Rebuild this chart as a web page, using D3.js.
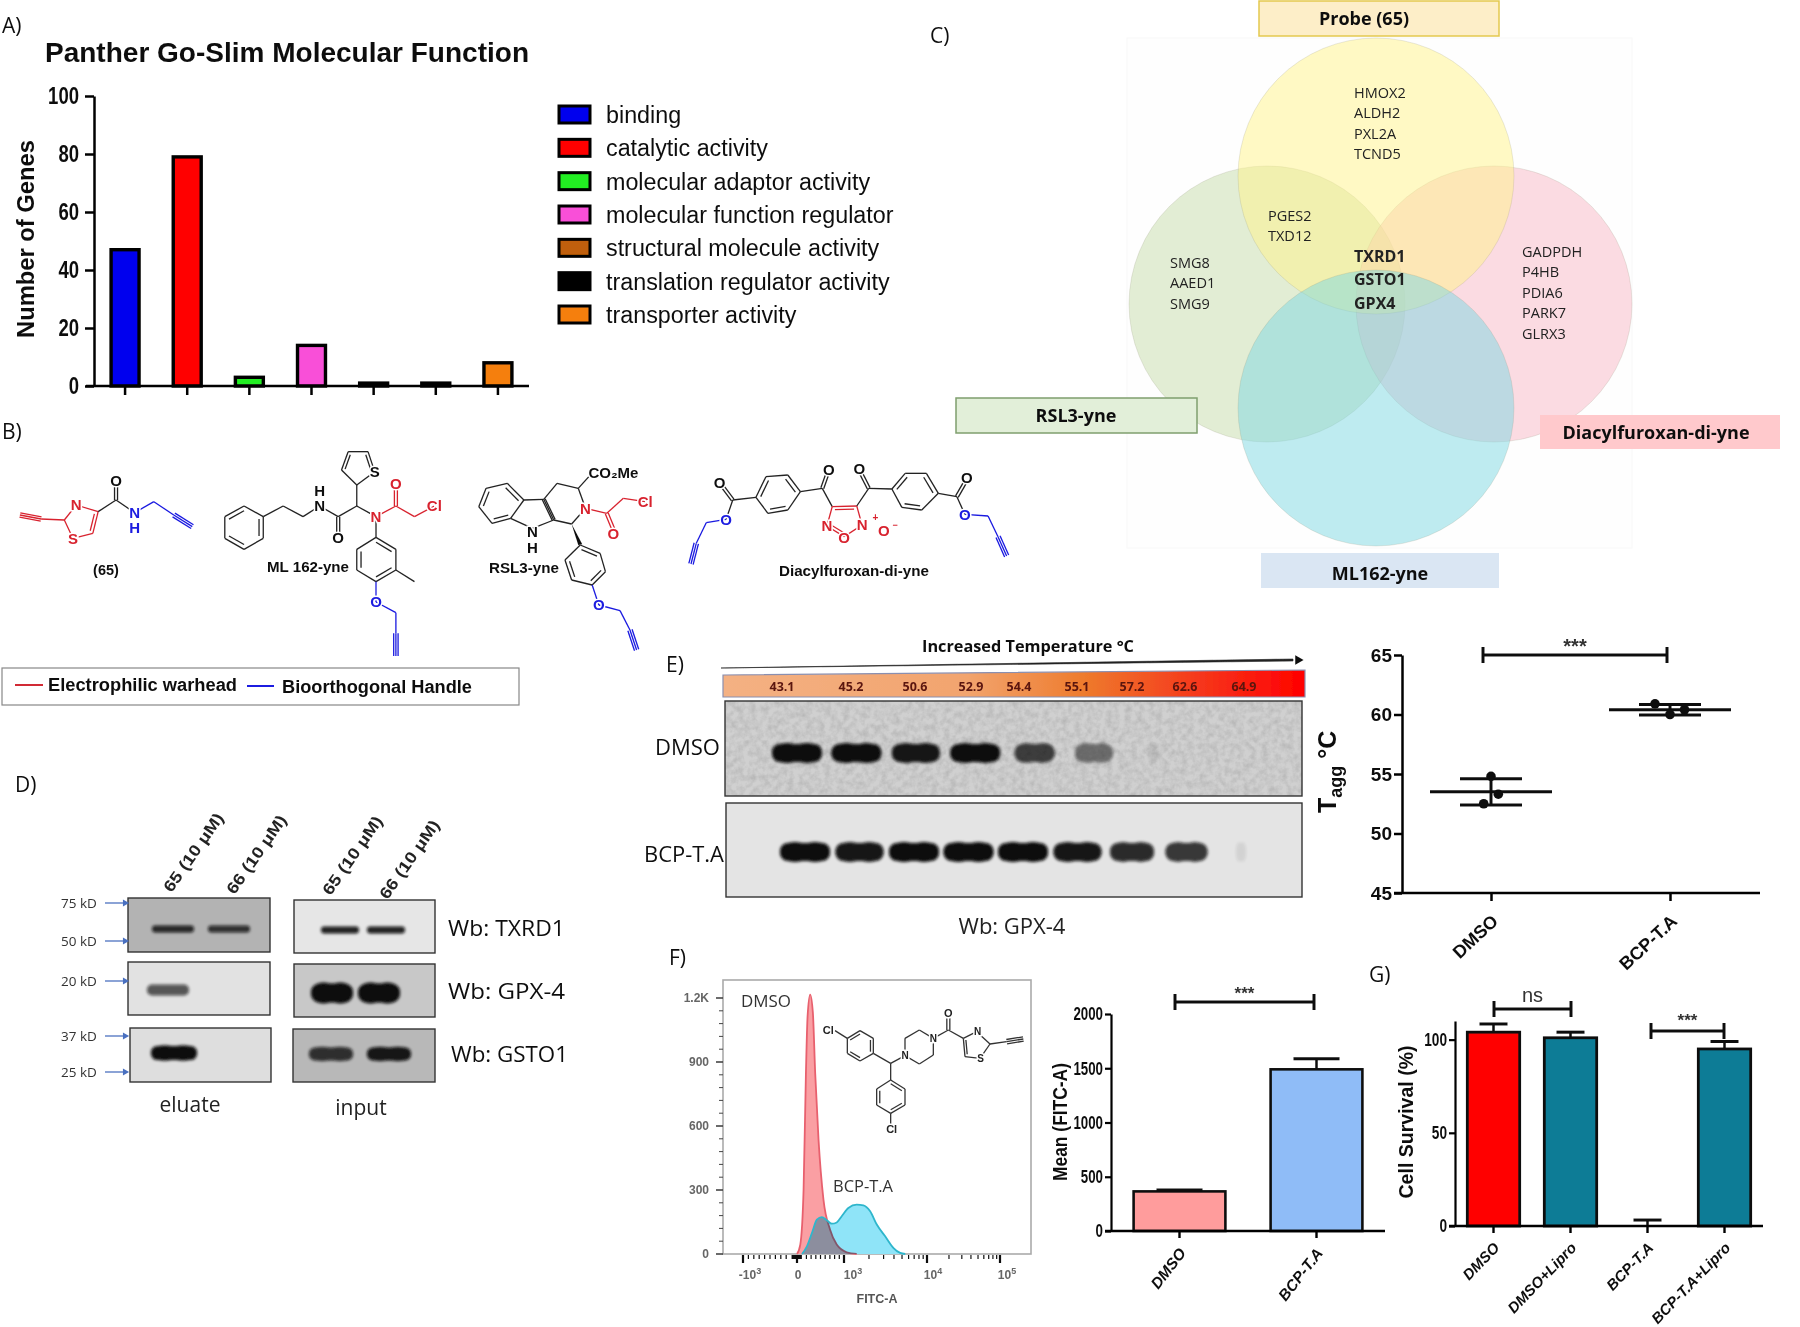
<!DOCTYPE html>
<html>
<head>
<meta charset="utf-8">
<script src="https://cdn.jsdelivr.net/npm/d3@7"></script>
<style>
  html, body { margin: 0; padding: 0; background: #fff; }
  text { font-family: "Liberation Sans", Arial, sans-serif; fill: #111; }
  .cal text, text.cal { font-family: "Open Sans", "Noto Sans", sans-serif; }
</style>
</head>
<body>
<script>
// A) panther go-slim
var goCategories = ['binding', 'catalytic activity', 'molecular adaptor activity', 'molecular function regulator', 'structural molecule activity', 'translation regulator activity', 'transporter activity'];
var goValues = [47, 79, 3, 14, 1, 1, 8];
var goColors = ['#0000ee', '#ff0000', '#22ee22', '#f94fd8', '#c05f08', '#000000', '#f57f0f'];
var goTicks = [0, 20, 40, 60, 80, 100];

// C) venn
var vennNames = ['RSL3-yne', 'Diacylfuroxan-di-yne', 'Probe (65)', 'ML162-yne'];
var vennProbeOnly = ['HMOX2', 'ALDH2', 'PXL2A', 'TCND5'];
var vennProbeRsl = ['PGES2', 'TXD12'];
var vennRslOnly = ['SMG8', 'AAED1', 'SMG9'];
var vennDiacylOnly = ['GADPDH', 'P4HB', 'PDIA6', 'PARK7', 'GLRX3'];
var vennCore = ['TXRD1', 'GSTO1', 'GPX4'];

// D) western blots, band strength per lane
var txrdEluate = [0.85, 0.8];
var txrdInput = [0.9, 0.9];
var gpxEluate = [0.65, 0];
var gpxInput = [1, 1];
var gstoEluate = [1, 0];
var gstoInput = [0.8, 0.95];
var kdLabels = ['75 kD', '50 kD', '20 kD', '37 kD', '25 kD'];
var laneLabels = ['65 (10 \u03bcM)', '66 (10 \u03bcM)', '65 (10 \u03bcM)', '66 (10 \u03bcM)'];

// E) thermal shift
var tempLabels = ['43.1', '45.2', '50.6', '52.9', '54.4', '55.1', '57.2', '62.6', '64.9'];
var dmsoLanes = [1, 1, 0.95, 1, 0.75, 0.5, 0.08, 0, 0];
var bcpLanes = [1, 0.95, 1, 1, 1, 0.95, 0.85, 0.8, 0.08];
var taggGroups = ['DMSO', 'BCP-T.A'];
var taggDmso = [54.8, 53.3, 52.5];
var taggBcp = [60.9, 60.0, 60.4];
var taggMean = [53.5, 60.4];
var taggSd = [1.1, 0.45];
var taggTicks = [45, 50, 55, 60, 65];

// F) flow histogram, [FITC-A, count]
var histDmso = [[0, 0], [70, 44], [140, 302], [190, 848], [225, 1114], [280, 1216], [338, 1130], [387, 848], [458, 536], [563, 255], [704, 114], [845, 44], [1077, 8], [1423, 0]];
var histBcp = [[106, 0], [211, 36], [317, 98], [423, 161], [528, 173], [634, 158], [739, 142], [845, 148], [951, 177], [1128, 216], [1423, 231], [1714, 228], [2066, 200], [2483, 138], [3133, 83], [3954, 28], [4753, 5], [5470, 0]];
var histYTicks = [0, 300, 600, 900, 1200];
var histYLabels = ['0', '300', '600', '900', '1.2K'];
var meanGroups = ['DMSO', 'BCP-T.A'];
var meanValues = [365, 1490];
var meanErrors = [12, 97];
var meanColors = ['#ff9c9c', '#8fbcf7'];
var meanTicks = [0, 500, 1000, 1500, 2000];

// G) survival
var survGroups = ['DMSO', 'DMSO+Lipro', 'BCP-T.A', 'BCP-T.A+Lipro'];
var survValues = [104, 101, 0, 95];
var survErrors = [4.4, 3, 3.2, 4];
var survColors = ['#ff0000', '#0a7c96', '#0a7c96', '#0a7c96'];
var survTicks = [0, 50, 100];

var svg = d3.select('body').append('svg').attr('width', 1800).attr('height', 1327).style('display', 'block');
var defs = svg.append('defs');
function blur(id, sd) {
  defs.append('filter').attr('id', id).attr('filterUnits', 'userSpaceOnUse')
    .attr('x', 0).attr('y', 0).attr('width', 1800).attr('height', 1327)
    .append('feGaussianBlur').attr('stdDeviation', sd);
}
blur('soft', 0.55);
blur('smear', 1.5);

// film grain on the blots
var grain = defs.append('filter').attr('id', 'grain').attr('x', 0).attr('y', 0).attr('width', 1).attr('height', 1);
grain.append('feTurbulence').attr('type', 'fractalNoise').attr('baseFrequency', 0.16).attr('numOctaves', 3).attr('seed', 4);
grain.append('feColorMatrix').attr('type', 'matrix').attr('values', '0 0 0 0 0.25  0 0 0 0 0.25  0 0 0 0 0.25  0.6 0 0 0 -0.2');

svg.append('rect').attr('width', 1800).attr('height', 1327).attr('fill', '#fff');
var root = svg.append('g').attr('filter', 'url(#soft)');

// text helper, y is the middle of the line
function txt(g, x, y, s, o) {
  o = o || {};
  var t = g.append('text').attr('x', x).attr('y', y).attr('dy', '.35em').text(s)
    .attr('font-size', o.size || 16)
    .attr('text-anchor', o.anchor || 'start');
  if (o.bold) t.attr('font-weight', 'bold');
  if (o.italic) t.attr('font-style', 'italic');
  if (o.cal) t.classed('cal', true);
  if (o.fill) t.style('fill', o.fill);
  if (o.len) t.attr('textLength', o.len).attr('lengthAdjust', 'spacingAndGlyphs');
  if (o.rot) t.attr('transform', 'rotate(' + o.rot + ' ' + x + ' ' + y + ')');
  return t;
}

function styleAxis(a, width, size, charW) {
  a.selectAll('path,line').attr('stroke', '#000').attr('stroke-width', width);
  a.selectAll('text').attr('font-size', size).attr('font-weight', 'bold').style('fill', '#111');
  if (charW) {
    a.selectAll('text').attr('textLength', function (d) { return String(d).length * charW; }).attr('lengthAdjust', 'spacingAndGlyphs');
  }
  return a;
}

function sigBar(g, x1, x2, y, label, labelY, labelSize) {
  var s = g.append('g').attr('stroke', '#111').attr('stroke-width', 3).attr('fill', 'none');
  s.append('line').attr('x1', x1).attr('x2', x2).attr('y1', y).attr('y2', y);
  s.append('line').attr('x1', x1).attr('x2', x1).attr('y1', y - 8).attr('y2', y + 8);
  s.append('line').attr('x1', x2).attr('x2', x2).attr('y1', y - 8).attr('y2', y + 8);
  txt(g, (x1 + x2) / 2, labelY, label, { size: labelSize || 16, anchor: 'middle', bold: label !== 'ns', fill: '#333' });
}

// ---------------- panel letters
[['A)', 2, 26], ['B)', 2, 432], ['C)', 930, 36], ['D)', 15, 785], ['E)', 666, 665], ['F)', 669, 958], ['G)', 1369, 975]].forEach(function (d) {
  txt(root, d[1], d[2], d[0], { size: 21, cal: true });
});

// ---------------- A
(function () {
  var g = root.append('g');
  var x = d3.scaleBand().domain(goCategories).range([94, 529]).paddingInner(0.55).paddingOuter(0.275);
  var y = d3.scaleLinear().domain([0, 100]).range([386, 96]);

  txt(g, 45, 52, 'Panther Go-Slim Molecular Function', { size: 28, bold: true, len: 484 });
  txt(g, 26, 239, 'Number of Genes', { size: 24, bold: true, anchor: 'middle', rot: -90, len: 198 });

  g.selectAll('rect.bar').data(goValues).enter().append('rect').attr('class', 'bar')
    .attr('x', function (d, i) { return x(goCategories[i]); })
    .attr('y', function (d) { return y(d); })
    .attr('width', x.bandwidth())
    .attr('height', function (d) { return y(0) - y(d); })
    .attr('fill', function (d, i) { return goColors[i]; })
    .attr('stroke', '#000').attr('stroke-width', 3.4);

  var ay = g.append('g').attr('transform', 'translate(94,0)').call(d3.axisLeft(y).tickValues(goTicks).tickSize(9).tickSizeOuter(0).tickPadding(6));
  styleAxis(ay, 2.5, 24, 10.3);
  var ax = g.append('g').attr('transform', 'translate(0,386)').call(d3.axisBottom(x).tickFormat('').tickSize(9).tickSizeOuter(0));
  styleAxis(ax, 2.5, 10);
  ax.select('.domain').attr('d', 'M86,0H529');

  // legend
  var leg = d3.scalePoint().domain(goCategories).range([115, 315]);
  goCategories.forEach(function (c, i) {
    g.append('rect').attr('x', 559).attr('y', leg(c) - 9).attr('width', 31).attr('height', 17)
      .attr('fill', goColors[i]).attr('stroke', '#000').attr('stroke-width', 3);
    txt(g, 606, leg(c), c, { size: 23.3 });
  });
})();

// ---------------- B, skeletal formulas traced by hand
var INK = '#222', WARM = '#d8232f', COOL = '#1a1ae0';

function line2(g, a, b, c, w) {
  g.append('line').attr('x1', a[0]).attr('y1', a[1]).attr('x2', b[0]).attr('y2', b[1])
    .attr('stroke', c).attr('stroke-width', w || 1.3);
}
function molecule(sx, sy, ox, oy) {
  var g = root.append('g');
  function P(p) { return [ox + p[0] / sx, oy + p[1] / sy]; }
  var m = {
    path: function (pts, c) {
      for (var i = 1; i < pts.length; i++) line2(g, P(pts[i - 1]), P(pts[i]), c || INK);
      return m;
    },
    ring: function (pts, c, doubles) {
      var q = pts.map(P);
      var cx = d3.mean(q, function (d) { return d[0]; }), cy = d3.mean(q, function (d) { return d[1]; });
      q.forEach(function (a, i) {
        var b = q[(i + 1) % q.length];
        line2(g, a, b, c || INK);
        if ((doubles || []).indexOf(i) >= 0) {
          var k = 0.78;
          line2(g, [cx + (a[0] - cx) * k, cy + (a[1] - cy) * k], [cx + (b[0] - cx) * k, cy + (b[1] - cy) * k], c || INK);
        }
      });
      return m;
    },
    dbl: function (a, b, c) {
      var p = P(a), r = P(b), dx = r[0] - p[0], dy = r[1] - p[1], l = Math.sqrt(dx * dx + dy * dy);
      var nx = -dy / l * 1.5, ny = dx / l * 1.5;
      line2(g, [p[0] + nx, p[1] + ny], [r[0] + nx, r[1] + ny], c || INK);
      line2(g, [p[0] - nx, p[1] - ny], [r[0] - nx, r[1] - ny], c || INK);
      return m;
    },
    tri: function (a, b, c) {
      var p = P(a), r = P(b), dx = r[0] - p[0], dy = r[1] - p[1], l = Math.sqrt(dx * dx + dy * dy);
      var nx = -dy / l * 2.2, ny = dx / l * 2.2;
      [-1, 0, 1].forEach(function (k) {
        line2(g, [p[0] + nx * k, p[1] + ny * k], [r[0] + nx * k, r[1] + ny * k], c || INK);
      });
      return m;
    },
    atom: function (p, s, c, size) {
      var q = P(p);
      txt(g, q[0], q[1], s, { size: size || 15, bold: true, anchor: 'middle', fill: c || '#111' })
        .attr('stroke', '#fff').attr('stroke-width', 3).attr('paint-order', 'stroke');
      return m;
    }
  };
  return m;
}

// (65)
molecule(1.508, 3, 0, 420)
  .tri([30, 285], [62, 297], WARM).path([[62, 297], [97, 300]], WARM)
  .ring([[97, 300], [115, 255], [148, 275], [140, 340], [110, 355]], WARM, [2])
  .path([[148, 275], [175, 240], [203, 278]], INK)
  .path([[203, 278], [232, 245], [262, 285]], COOL)
  .dbl([175, 240], [175, 198]).tri([262, 285], [290, 320], COOL)
  .atom([115, 255], 'N', WARM).atom([110, 357], 'S', WARM).atom([175, 183], 'O')
  .atom([203, 277], 'N', COOL).atom([203, 322], 'H', COOL);
txt(root, 106, 570, '(65)', { size: 14.5, bold: true, anchor: 'middle' });

// ML 162-yne
molecule(1.508, 3, 0, 420)
  .ring([[368, 258], [397, 290], [397, 355], [368, 388], [339, 355], [339, 290]], INK, [1, 3, 5])
  .path([[397, 290], [427, 258], [457, 290], [482, 258], [510, 290], [538, 258], [538, 195]])
  .dbl([510, 290], [510, 340])
  .ring([[538, 195], [515, 150], [525, 95], [555, 95], [565, 155]], INK, [1, 3])
  .path([[538, 258], [567, 290]])
  .path([[567, 290], [597, 258], [625, 290], [655, 258]], WARM).dbl([597, 258], [597, 205], WARM)
  .path([[567, 290], [567, 352]])
  .ring([[567, 352], [597, 388], [597, 450], [567, 485], [538, 450], [538, 388]], INK, [0, 2, 4])
  .path([[597, 450], [625, 485]])
  .path([[567, 485], [567, 546], [597, 578], [597, 640]], COOL).tri([597, 640], [597, 708], COOL)
  .atom([482, 258], 'N').atom([482, 212], 'H').atom([510, 352], 'O').atom([565, 155], 'S')
  .atom([567, 290], 'N', WARM).atom([597, 192], 'O', WARM).atom([655, 258], 'Cl', WARM).atom([567, 546], 'O', COOL);
txt(root, 308, 567, 'ML 162-yne', { size: 14.5, bold: true, anchor: 'middle', len: 82 });

// RSL3-yne
molecule(1.508, 3, 0, 420)
  .ring([[733, 205], [765, 190], [790, 240], [770, 295], [742, 310], [722, 260]], INK, [1, 3, 5])
  .path([[790, 240], [820, 238], [835, 300], [803, 325], [770, 295]]).dbl([820, 238], [835, 300])
  .path([[820, 238], [840, 190], [872, 205], [883, 265], [862, 312], [835, 300]])
  .path([[872, 205], [888, 170]])
  .path([[883, 265], [915, 280], [940, 235], [973, 245]], WARM).dbl([915, 280], [925, 328], WARM)
  .ring([[875, 375], [905, 400], [913, 455], [893, 495], [862, 480], [852, 420]], INK, [0, 2, 4])
  .path([[893, 495], [903, 555], [935, 572], [950, 630]], COOL).tri([950, 630], [960, 690], COOL)
  .atom([803, 336], 'N').atom([803, 382], 'H').atom([925, 158], 'CO\u2082Me').atom([883, 265], 'N', WARM)
  .atom([925, 340], 'O', WARM).atom([973, 245], 'Cl', WARM).atom([903, 555], 'O', COOL);
// wedge bond of RSL3-yne
root.append('path').attr('d', 'M' + (862 / 1.508) + ',' + (420 + 312 / 3) + 'L' + (872 / 1.508) + ',' + (420 + 375 / 3) + 'L' + (878 / 1.508) + ',' + (420 + 373 / 3) + 'Z').attr('fill', '#111');
txt(root, 524, 568, 'RSL3-yne', { size: 14.5, bold: true, anchor: 'middle', len: 70 });

// Diacylfuroxan-di-yne
molecule(1.508, 3, 0, 420)
  .ring([[1140, 232], [1155, 170], [1188, 165], [1207, 215], [1188, 270], [1158, 280]], INK, [0, 2, 4])
  .path([[1140, 232], [1105, 240]]).dbl([1105, 240], [1090, 200]).path([[1105, 240], [1095, 298]])
  .path([[1095, 298], [1065, 308], [1050, 370]], COOL).tri([1050, 370], [1042, 432], COOL)
  .path([[1207, 215], [1240, 205], [1255, 260]]).dbl([1240, 205], [1248, 160])
  .ring([[1255, 260], [1292, 258], [1300, 315], [1273, 350], [1247, 318]], WARM, [0, 3])
  .path([[1292, 258], [1310, 205], [1345, 207]]).dbl([1310, 205], [1298, 158])
  .ring([[1345, 207], [1365, 160], [1397, 160], [1415, 220], [1390, 270], [1360, 262]], INK, [0, 2, 4])
  .path([[1415, 220], [1443, 230], [1455, 283]]).dbl([1443, 230], [1456, 185])
  .path([[1455, 283], [1490, 288], [1505, 350]], COOL).tri([1505, 350], [1518, 408], COOL)
  .atom([1085, 188], 'O').atom([1095, 298], 'O', COOL).atom([1250, 148], 'O').atom([1296, 145], 'O')
  .atom([1458, 172], 'O').atom([1455, 283], 'O', COOL)
  .atom([1247, 318], 'N', WARM).atom([1300, 315], 'N', WARM).atom([1273, 352], 'O', WARM)
  .atom([1320, 292], '+', WARM, 10).atom([1333, 333], 'O', WARM).atom([1350, 314], '\u2212', WARM, 9);
txt(root, 854, 571, 'Diacylfuroxan-di-yne', { size: 14.5, bold: true, anchor: 'middle', len: 150 });

// warhead legend
(function () {
  var g = root.append('g');
  g.append('rect').attr('x', 2).attr('y', 668).attr('width', 517).attr('height', 37).attr('fill', 'none').attr('stroke', '#888').attr('stroke-width', 1.2);
  line2(g, [15, 685], [43, 685], '#d12a36', 2);
  line2(g, [247, 686], [274, 686], '#1a1ae0', 2);
  txt(g, 48, 685, 'Electrophilic warhead', { size: 18, bold: true, len: 189 });
  txt(g, 282, 687, 'Bioorthogonal Handle', { size: 18, bold: true, len: 190 });
})();

// ---------------- C venn
(function () {
  var g = root.append('g');
  g.append('rect').attr('x', 1127).attr('y', 38).attr('width', 505).attr('height', 510).attr('fill', '#fefefe').attr('stroke', '#f8f8f8');
  var circles = [[1267, 304, '#c5dbaa'], [1494, 304, '#f7b7c5'], [1376, 176, '#fff389'], [1376, 408, '#7dd7e1']];
  g.selectAll('circle').data(circles).enter().append('circle')
    .attr('cx', function (d) { return d[0]; }).attr('cy', function (d) { return d[1]; })
    .attr('r', 138).attr('fill', function (d) { return d[2]; }).attr('fill-opacity', 0.5)
    .attr('stroke', '#8a8a70').attr('stroke-opacity', 0.18);

  function list(names, x, top, step, bold) {
    var p = d3.scaleLinear().domain([0, 1]).range([top, top + step]);
    names.forEach(function (n, i) {
      txt(g, x, p(i), n, { size: bold ? 16 : 14.5, cal: true, bold: bold, fill: '#222' });
    });
  }
  list(vennProbeOnly, 1354, 93, 20.4);
  list(vennProbeRsl, 1268, 216, 20.4);
  list(vennRslOnly, 1170, 263, 20.4);
  list(vennDiacylOnly, 1522, 252, 20.4);
  list(vennCore, 1354, 256, 23.6, true);

  var boxes = [
    [956, 398, 241, 35, '#e2efd9', '#7f9f6e', 1076, 416],
    [1540, 415, 240, 34, '#ffc9cc', 'none', 1656, 433],
    [1259, 1, 240, 35, '#fdeec8', '#e3c94f', 1364, 19],
    [1261, 553, 238, 35, '#dae6f3', 'none', 1380, 574]
  ];
  boxes.forEach(function (b, i) {
    g.append('rect').attr('x', b[0]).attr('y', b[1]).attr('width', b[2]).attr('height', b[3])
      .attr('fill', b[4]).attr('stroke', b[5]).attr('stroke-width', 1.5);
    txt(g, b[6], b[7], vennNames[i], { size: 18, bold: true, cal: true, anchor: 'middle' });
  });
})();

// ---------------- gel helpers
var bandWidth = d3.scaleLinear().domain([0.08, 0.5, 0.75, 1]).range([10, 38, 40, 50]);

function blot(g, x, y, w, h, fill, rough) {
  g.append('rect').attr('x', x).attr('y', y).attr('width', w).attr('height', h).attr('fill', fill);
  if (rough) g.append('rect').attr('x', x).attr('y', y).attr('width', w).attr('height', h).attr('filter', 'url(#grain)');
  g.append('rect').attr('x', x).attr('y', y).attr('width', w).attr('height', h).attr('fill', 'none').attr('stroke', '#333').attr('stroke-width', 1.4);
}
function bands(g, vals, lane, yc, h, wFn) {
  var live = vals.map(function (v, i) { return { v: v, i: i }; }).filter(function (d) { return d.v > 0; });
  var b = g.selectAll(null).data(live).enter().append('g')
    .attr('opacity', function (d) { return d.v; })
    .attr('filter', 'url(#smear)');
  b.append('rect')
    .attr('x', function (d) { return lane(d.i) - wFn(d) / 2; })
    .attr('y', yc - h / 2)
    .attr('width', wFn)
    .attr('height', h)
    .attr('rx', h * 0.45)
    .attr('fill', '#0c0c0c');
  // thick bands are slightly two-lobed on the film
  if (h > 11) {
    [-0.2, 0.2].forEach(function (k) {
      b.append('ellipse')
        .attr('cx', function (d) { return lane(d.i) + wFn(d) * k; })
        .attr('cy', yc)
        .attr('rx', function (d) { return wFn(d) * 0.3; })
        .attr('ry', h * 0.55)
        .attr('fill', '#0c0c0c');
    });
  }
}

// ---------------- D
(function () {
  var g = root.append('g');
  blot(g, 128, 898, 142, 54, '#b3b3b3');
  blot(g, 128, 962, 142, 53, '#e2e2e2');
  blot(g, 130, 1028, 141, 54, '#dedede');
  blot(g, 294, 900, 141, 53, '#e6e6e6');
  blot(g, 294, 964, 141, 53, '#c8c8c8');
  blot(g, 293, 1029, 142, 53, '#b8b8b8');

  function w(n) { return function () { return n; }; }
  bands(g, txrdEluate, d3.scaleLinear().domain([0, 1]).range([173, 229]), 929, 7, w(42));
  bands(g, txrdInput, d3.scaleLinear().domain([0, 1]).range([340, 386]), 930, 7, w(38));
  bands(g, gpxEluate, d3.scaleLinear().domain([0, 1]).range([168, 224]), 990, 11, w(42));
  bands(g, gpxInput, d3.scaleLinear().domain([0, 1]).range([332, 379]), 993, 19, w(42));
  bands(g, gstoEluate, d3.scaleLinear().domain([0, 1]).range([174, 230]), 1053, 14, w(46));
  bands(g, gstoInput, d3.scaleLinear().domain([0, 1]).range([331, 389]), 1054, 13, w(44));

  var kdY = d3.scaleOrdinal().domain(kdLabels).range([903, 941, 981, 1036, 1072]);
  kdLabels.forEach(function (k) {
    txt(g, 79, kdY(k), k, { size: 13.5, anchor: 'middle', cal: true, fill: '#333' });
    line2(g, [105, kdY(k)], [124, kdY(k)], '#5b7cc4', 1.4);
    g.append('path').attr('d', d3.symbol(d3.symbolTriangle, 22)()).attr('fill', '#4a6fc0')
      .attr('transform', 'translate(125,' + kdY(k) + ') rotate(90)');
  });

  var laneX = d3.scaleOrdinal().domain([0, 1, 2, 3]).range([167, 230, 326, 383]);
  var laneY = d3.scaleOrdinal().domain([0, 1, 2, 3]).range([890, 892, 893, 897]);
  laneLabels.forEach(function (l, i) {
    txt(g, laneX(i), laneY(i), l, { size: 16, bold: true, rot: -55, len: 92, fill: '#222' });
  });

  [['Wb: TXRD1', 448, 929], ['Wb: GPX-4', 448, 992], ['Wb: GSTO1', 451, 1055]].forEach(function (d) {
    txt(g, d[1], d[2], d[0], { size: 21, cal: true, len: 117 });
  });
  txt(g, 190, 1105, 'eluate', { size: 21, cal: true, anchor: 'middle', fill: '#222' });
  txt(g, 361, 1108, 'input', { size: 21, cal: true, anchor: 'middle', fill: '#222' });
})();

// ---------------- E gel
(function () {
  var g = root.append('g');
  txt(g, 1028, 646, 'Increased Temperature \u00b0C', { size: 16.5, bold: true, cal: true, anchor: 'middle', len: 212 });
  g.append('path').attr('d', 'M721,668 L1293,659 L1293,661 Z').attr('fill', '#222').attr('stroke', '#222').attr('stroke-width', 0.6);
  g.append('path').attr('d', d3.symbol(d3.symbolTriangle, 40)()).attr('fill', '#111').attr('transform', 'translate(1298,660) rotate(90)');

  var grad = defs.append('linearGradient').attr('id', 'heat');
  [[0, '#f4b183'], [0.42, '#f2a46e'], [0.62, '#ee7b2d'], [0.82, '#f6361b'], [1, '#ff0000']].forEach(function (s) {
    grad.append('stop').attr('offset', s[0]).attr('stop-color', s[1]);
  });
  g.append('path').attr('d', 'M723,675 L1305,670 L1305,697 L723,697 Z').attr('fill', 'url(#heat)').attr('stroke', '#8a8fb0').attr('stroke-width', 1.2);

  var tx = d3.scaleOrdinal().domain(tempLabels).range([782, 851, 915, 971, 1019, 1077, 1132, 1185, 1244]);
  tempLabels.forEach(function (t) {
    txt(g, tx(t), 687, t, { size: 12.5, bold: true, anchor: 'middle', cal: true, fill: '#5a1410' });
  });

  blot(g, 725, 701, 577, 95, '#d0d0d0', true);
  blot(g, 726, 803, 576, 94, '#e4e4e4');
  bands(g, dmsoLanes, d3.scaleLinear().domain([0, 1]).range([797, 856.4]), 753, 18, function (d) { return bandWidth(d.v); });
  bands(g, bcpLanes, d3.scaleLinear().domain([0, 1]).range([805, 859.5]), 852, 18, function (d) { return bandWidth(d.v); });

  txt(g, 655, 747, 'DMSO', { size: 22, cal: true, len: 65 });
  txt(g, 644, 854, 'BCP-T.A', { size: 22, cal: true, len: 80 });
  txt(g, 1012, 926, 'Wb: GPX-4', { size: 22, cal: true, anchor: 'middle', fill: '#222' });
})();

// ---------------- E scatter
(function () {
  var g = root.append('g');
  var x = d3.scalePoint().domain(taggGroups).range([1491, 1670]);
  var y = d3.scaleLinear().domain([45, 65]).range([893, 655]);
  var jitter = [[0, 7.3, -7.3], [-15, 0, 14.5]];

  var ay = g.append('g').attr('transform', 'translate(1402,0)').call(d3.axisLeft(y).tickValues(taggTicks).tickSize(8).tickSizeOuter(0).tickPadding(2));
  styleAxis(ay, 2.5, 19);
  var ax = g.append('g').attr('transform', 'translate(0,893)').call(d3.axisBottom(x).tickFormat('').tickSize(8).tickSizeOuter(0));
  styleAxis(ax, 2.5, 10);
  ax.select('.domain').attr('d', 'M1394,0H1760');

  [taggDmso, taggBcp].forEach(function (vals, i) {
    var cx = x(taggGroups[i]);
    var top = y(taggMean[i] + taggSd[i]), bot = y(taggMean[i] - taggSd[i]), mid = y(taggMean[i]);
    var s = g.append('g').attr('stroke', '#111').attr('stroke-width', 3);
    s.append('line').attr('x1', cx - 61).attr('x2', cx + 61).attr('y1', mid).attr('y2', mid);
    s.append('line').attr('x1', cx - 31).attr('x2', cx + 31).attr('y1', top).attr('y2', top);
    s.append('line').attr('x1', cx - 31).attr('x2', cx + 31).attr('y1', bot).attr('y2', bot);
    s.append('line').attr('x1', cx).attr('x2', cx).attr('y1', top).attr('y2', bot);
    g.selectAll(null).data(vals).enter().append('circle')
      .attr('cx', function (d, k) { return cx + jitter[i][k]; })
      .attr('cy', function (d) { return y(d); }).attr('r', 4.8).attr('fill', '#111');
  });

  taggGroups.forEach(function (c) {
    txt(g, x(c) + 4, 918, c, { size: 18, bold: true, anchor: 'end', rot: -43 });
  });

  var lab = g.append('text').attr('transform', 'translate(1336,813) rotate(-90)').attr('font-size', 25).attr('font-weight', 'bold');
  lab.append('tspan').text('T');
  lab.append('tspan').text('agg').attr('font-size', 18).attr('dy', 6);
  lab.append('tspan').text(' \u00b0C').attr('dy', -6);

  sigBar(g, 1483, 1667, 655, '***', 646, 20);
})();

// ---------------- F histogram
(function () {
  var g = root.append('g');
  // biexponential-looking axis: linear below 1000, log above
  var x = d3.scaleLinear().domain([-3, 0, 3, 4, 5]).range([743, 797, 844, 927, 1000]);
  function pos(v) {
    if (v <= 1000 && v >= -1000) return x(v / 1000 * 3);
    if (v < -1000) return x(-Math.log10(-v));
    return x(Math.log10(v));
  }
  var y = d3.scaleLinear().domain([0, 1200]).range([1254, 998]);

  g.append('rect').attr('x', 723).attr('y', 980).attr('width', 308).attr('height', 274).attr('fill', '#fff').attr('stroke', '#aaa').attr('stroke-width', 1.6);

  var area = d3.area().curve(d3.curveMonotoneX).x(function (d) { return pos(d[0]); }).y0(y(0)).y1(function (d) { return y(d[1]); });
  var line = d3.line().curve(d3.curveMonotoneX).x(function (d) { return pos(d[0]); }).y(function (d) { return y(d[1]); });

  var hist = g.append('g').style('isolation', 'isolate');
  hist.append('path').datum(histDmso).attr('d', area).attr('fill', '#fa9fa3');
  hist.append('path').datum(histDmso).attr('d', line).attr('fill', 'none').attr('stroke', '#e8616e').attr('stroke-width', 1.8);
  hist.append('path').datum(histBcp).attr('d', area).attr('fill', '#8fe4f8').style('mix-blend-mode', 'multiply');
  hist.append('path').datum(histBcp).attr('d', line).attr('fill', 'none').attr('stroke', '#2fb6cc').attr('stroke-width', 1.8);

  // y ticks
  var minor = d3.range(0, 1201, 60);
  g.selectAll(null).data(minor).enter().append('line')
    .attr('x1', function (d) { return d % 300 === 0 ? 716 : 719; }).attr('x2', 723)
    .attr('y1', y).attr('y2', y).attr('stroke', '#444').attr('stroke-width', function (d) { return d % 300 === 0 ? 1.6 : 1; });
  histYTicks.forEach(function (t, i) {
    txt(g, 709, y(t) - 0, histYLabels[i], { size: 12, anchor: 'end', bold: true, fill: '#666' });
  });

  // x ticks
  var major = [-1000, 0, 1000, 10000, 100000];
  var minors = [];
  [1, 2, 3, 4].forEach(function (p) { d3.range(2, 10).forEach(function (m) { minors.push(m * Math.pow(10, p)); minors.push(-m * Math.pow(10, p)); }); });
  minors = minors.filter(function (v) { return v > -1000 && v < 100000; });
  g.selectAll(null).data(minors).enter().append('line')
    .attr('x1', pos).attr('x2', pos).attr('y1', 1255).attr('y2', 1259).attr('stroke', '#111').attr('stroke-width', 1.2);
  g.selectAll(null).data(major).enter().append('line')
    .attr('x1', pos).attr('x2', pos).attr('y1', 1255).attr('y2', 1263).attr('stroke', '#111').attr('stroke-width', 2.2);

  var xl = [[-1000, '-10', '3', 7], [0, '0', '', 1], [1000, '10', '3', 9], [10000, '10', '4', 6], [100000, '10', '5', 7]];
  xl.forEach(function (d) {
    var t = txt(g, pos(d[0]) + d[3], 1275, d[1], { size: 12, bold: true, anchor: 'middle', fill: '#666' });
    if (d[2]) t.append('tspan').text(d[2]).attr('font-size', 9).attr('dy', -5);
  });
  txt(g, 877, 1299, 'FITC-A', { size: 12.5, bold: true, anchor: 'middle', fill: '#555' });

  txt(g, 741, 1001, 'DMSO', { size: 17, cal: true, len: 50, fill: '#333' });
  txt(g, 833, 1186, 'BCP-T.A', { size: 17, cal: true, len: 60, fill: '#333' });

  // probe structure on the histogram
  molecule(3, 3, 660, 940)
    .ring([[562, 295], [600, 272], [640, 295], [640, 340], [600, 363], [562, 340]], '#333', [0, 2, 4])
    .path([[525, 272], [562, 295]], '#333').path([[640, 340], [692, 370], [735, 347]], '#333')
    .path([[692, 370], [692, 420]], '#333')
    .ring([[692, 420], [735, 447], [735, 495], [692, 520], [650, 495], [650, 447]], '#333', [0, 2, 4])
    .path([[692, 520], [692, 552]], '#333')
    .ring([[735, 347], [735, 295], [778, 270], [820, 295], [820, 345], [778, 372]], '#333')
    .path([[820, 295], [865, 270], [910, 295]], '#333').dbl([865, 270], [865, 235], '#333')
    .ring([[910, 295], [950, 275], [990, 312], [960, 355], [915, 350]], '#333', [4])
    .path([[990, 312], [1040, 305]], '#333').tri([1040, 305], [1090, 297], '#333')
    .atom([505, 270], 'Cl', '#222', 11).atom([695, 568], 'Cl', '#222', 11).atom([735, 347], 'N', '#222', 10)
    .atom([820, 295], 'N', '#222', 10).atom([865, 220], 'O', '#222', 11).atom([953, 275], 'N', '#222', 10).atom([962, 356], 'S', '#222', 10);
})();

// ---------------- F bars
(function () {
  var g = root.append('g');
  var x = d3.scaleBand().domain(meanGroups).range([1111, 1385]).paddingInner(0.33).paddingOuter(0.165);
  var y = d3.scaleLinear().domain([0, 2000]).range([1231, 1014]);
  var w = x.bandwidth();

  meanValues.forEach(function (v, i) {
    var cx = x(meanGroups[i]) + w / 2;
    line2(g, [cx, y(v)], [cx, y(v + meanErrors[i])], '#111', 2.5);
    line2(g, [cx - 23, y(v + meanErrors[i])], [cx + 23, y(v + meanErrors[i])], '#111', 3);
  });
  g.selectAll('rect').data(meanValues).enter().append('rect')
    .attr('x', function (d, i) { return x(meanGroups[i]); }).attr('y', y).attr('width', w)
    .attr('height', function (d) { return y(0) - y(d); })
    .attr('fill', function (d, i) { return meanColors[i]; })
    .attr('stroke', '#111').attr('stroke-width', 2.6);

  var ay = g.append('g').attr('transform', 'translate(1111,0)').call(d3.axisLeft(y).tickValues(meanTicks).tickFormat(d3.format('d')).tickSize(6).tickSizeOuter(0).tickPadding(2));
  styleAxis(ay, 2.2, 18, 7.4);
  var ax = g.append('g').attr('transform', 'translate(0,1231)').call(d3.axisBottom(x).tickFormat('').tickSize(7).tickSizeOuter(0));
  styleAxis(ax, 2.4, 10);
  ax.select('.domain').attr('d', 'M1105,0H1385');

  meanGroups.forEach(function (c) {
    txt(g, x(c) + w / 2 + 3, 1250, c, { size: 15.5, italic: true, bold: true, anchor: 'end', rot: -52 });
  });
  txt(g, 1060, 1122, 'Mean (FITC-A)', { size: 20, bold: true, anchor: 'middle', rot: -90, len: 118 });
  sigBar(g, 1175, 1314, 1002, '***', 993, 17);
})();

// ---------------- G
(function () {
  var g = root.append('g');
  var x = d3.scaleBand().domain(survGroups).range([1455, 1763]).paddingInner(0.32).paddingOuter(0.16);
  var y = d3.scaleLinear().domain([0, 110]).range([1226, 1021]);
  var w = x.bandwidth();

  survValues.forEach(function (v, i) {
    var cx = x(survGroups[i]) + w / 2;
    line2(g, [cx, y(v)], [cx, y(v + survErrors[i])], '#111', 2.5);
    line2(g, [cx - 14, y(v + survErrors[i])], [cx + 14, y(v + survErrors[i])], '#111', 3);
  });
  g.selectAll('rect').data(survValues).enter().append('rect')
    .attr('x', function (d, i) { return x(survGroups[i]); }).attr('y', y).attr('width', w)
    .attr('height', function (d) { return y(0) - y(d); })
    .attr('fill', function (d, i) { return survColors[i]; })
    .attr('stroke', '#111').attr('stroke-width', function (d) { return d > 0 ? 2.8 : 0; });

  var ay = g.append('g').attr('transform', 'translate(1455,0)').call(d3.axisLeft(y).tickValues(survTicks).tickSize(6).tickSizeOuter(0).tickPadding(2));
  styleAxis(ay, 2.2, 18, 7.6);
  var ax = g.append('g').attr('transform', 'translate(0,1226)').call(d3.axisBottom(x).tickFormat('').tickSize(7).tickSizeOuter(0));
  styleAxis(ax, 2.4, 10);
  ax.select('.domain').attr('d', 'M1449,0H1763');

  survGroups.forEach(function (c) {
    txt(g, x(c) + w / 2 + 3, 1245, c, { size: 15, italic: true, bold: true, anchor: 'end', rot: -46 });
  });
  txt(g, 1406, 1122, 'Cell Survival (%)', { size: 20, bold: true, anchor: 'middle', rot: -90, len: 153 });
  sigBar(g, 1494, 1571, 1009, 'ns', 995, 20);
  sigBar(g, 1651, 1724, 1031, '***', 1020, 17);
})();
</script>
</body>
</html>
